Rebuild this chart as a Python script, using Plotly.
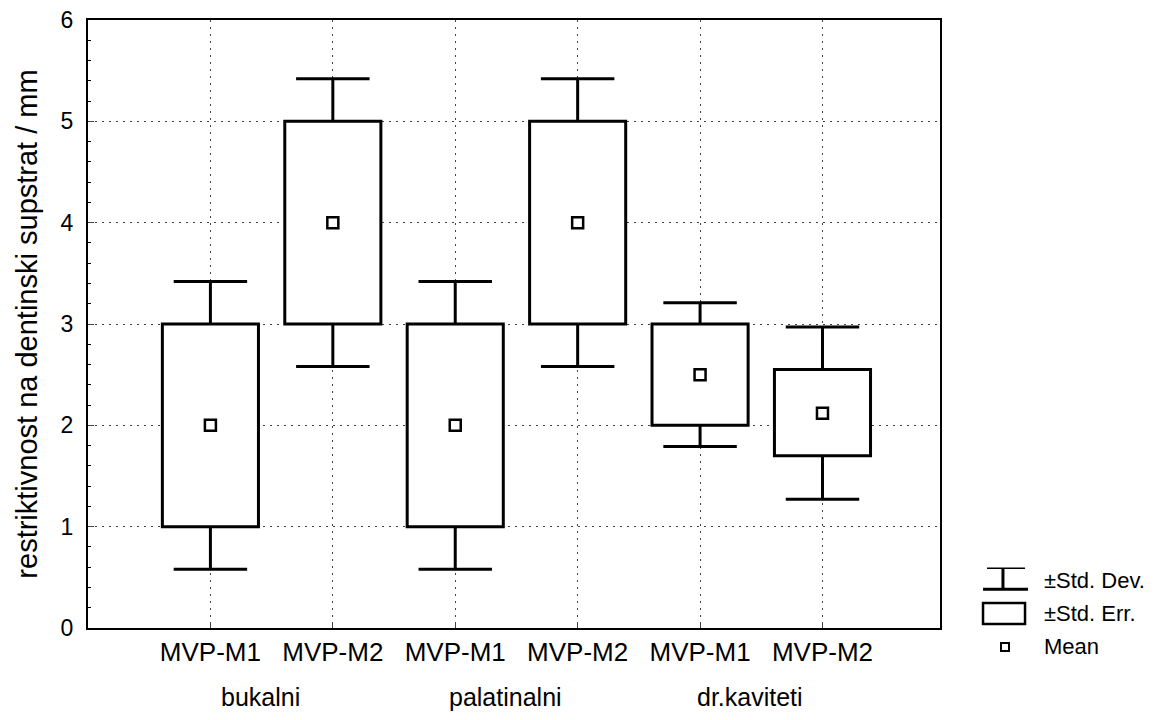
import plotly.graph_objects as go

categories = ["MVP-M1", "MVP-M2", "MVP-M1", "MVP-M2", "MVP-M1", "MVP-M2"]
groups = ["bukalni", "palatinalni", "dr.kaviteti"]
means = [2.0, 4.0, 2.0, 4.0, 2.5, 2.12]
se_low = [1.0, 3.0, 1.0, 3.0, 2.0, 1.70]
se_high = [3.0, 5.0, 3.0, 5.0, 3.0, 2.55]
sd_low = [0.58, 2.58, 0.58, 2.58, 1.79, 1.27]
sd_high = [3.42, 5.42, 3.42, 5.42, 3.21, 2.97]
y_ticks = [0, 1, 2, 3, 4, 5, 6]

xs = list(range(len(categories)))
box_w = 0.785
cap = 0.30
font = "Liberation Sans, Arial, sans-serif"

fig = go.Figure()

# whiskers (±Std. Dev.)
wx, wy = [], []
for x, lo, hi, slo, shi in zip(xs, se_low, se_high, sd_low, sd_high):
    wx += [x, x, None, x, x, None, x - cap, x + cap, None, x - cap, x + cap, None]
    wy += [hi, shi, None, lo, slo, None, shi, shi, None, slo, slo, None]
fig.add_trace(go.Scatter(x=wx, y=wy, mode="lines", line=dict(color="black", width=3),
                         showlegend=False, hoverinfo="skip"))

# boxes (±Std. Err.)
fig.add_trace(go.Bar(x=xs, y=[h - l for l, h in zip(se_low, se_high)], base=se_low,
                     width=box_w, marker=dict(color="white", line=dict(color="black", width=3)),
                     showlegend=False))

# means
fig.add_trace(go.Scatter(x=xs, y=means, mode="markers",
                         marker=dict(symbol="square-open", size=11, color="black", line=dict(width=2.5)),
                         showlegend=False))

# group labels under the category labels
for i, g in enumerate(groups):
    fig.add_annotation(x=2 * i + 0.41, y=-0.113, xref="x", yref="paper", text=g,
                       showarrow=False, yanchor="middle", font=dict(size=25, color="black", family=font))

# hand-drawn legend (Statistica style), paper coords
def line(x0, x1, y0, y1, w):
    fig.add_shape(type="line", xref="paper", yref="paper", x0=x0, x1=x1, y0=y0, y1=y1,
                  line=dict(color="black", width=w))

line(1.0505, 1.1033, 0.0639, 0.0639, 3)
line(1.0739, 1.0739, 0.0639, 0.0984, 3)
line(1.0552, 1.0998, 0.0984, 0.0984, 1.5)
fig.add_shape(type="rect", xref="paper", yref="paper", x0=1.0505, x1=1.0998, y0=0.0066, y1=0.041,
              line=dict(color="black", width=2.5), fillcolor="white")
fig.add_shape(type="rect", xref="paper", yref="paper", x0=1.0716, x1=1.081, y0=-0.0377, y1=-0.0246,
              line=dict(color="black", width=2), fillcolor="white")
for t, yy in [("±Std. Dev.", 0.0787), ("±Std. Err.", 0.0246), ("Mean", -0.0311)]:
    fig.add_annotation(x=1.1197, y=yy, xref="paper", yref="paper", text=t, showarrow=False,
                       xanchor="left", yanchor="middle", font=dict(size=22, color="black", family=font))

grid = dict(showgrid=True, gridcolor="#444", gridwidth=1, griddash="2px,5px")
fig.update_xaxes(range=[-1, 5.96], tickvals=xs, ticktext=categories, ticks="inside", ticklen=6,
                 showline=True, linecolor="black", linewidth=2, mirror=True, zeroline=False,
                 automargin=False, tickfont=dict(size=26, color="black", family=font), **grid)
fig.update_yaxes(range=[0, 6], tickvals=y_ticks, ticks="inside", ticklen=6,
                 minor=dict(ticks="inside", ticklen=3, dtick=0.2, tickcolor="black", showgrid=False),
                 showline=True, linecolor="black", linewidth=2, mirror=True, zeroline=False,
                 automargin=False, ticklabeloverflow="allow", ticklabelstandoff=8,
                 tickfont=dict(size=23, color="black", family=font),
                 title=dict(text="restriktivnost na dentinski supstrat / mm",
                            font=dict(size=29, color="black", family=font), standoff=14), **grid)

fig.update_layout(width=1157, height=720, plot_bgcolor="white", paper_bgcolor="white",
                  margin=dict(l=80, r=225, t=12, b=100), barmode="overlay", font=dict(family=font))

fig.write_html("out.html")
